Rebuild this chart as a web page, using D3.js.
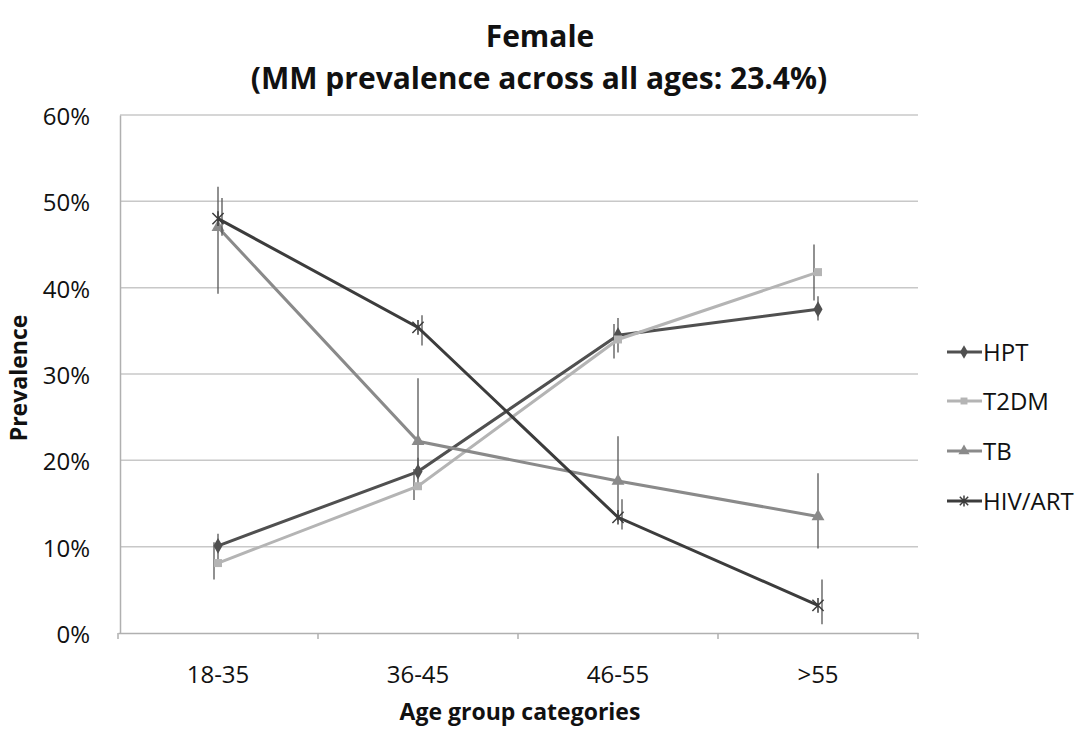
<!DOCTYPE html>
<html>
<head>
<meta charset="utf-8">
<script src="https://cdn.jsdelivr.net/npm/d3@7"></script>
<style>
  body { margin: 0; background: #fff; }
  text { font-family: "Open Sans", "Noto Sans", sans-serif; fill: #111; }
</style>
</head>
<body>
<div id="chart"></div>
<script>
let width = 1088;
let height = 731;
let margins = { top: 115, right: 170, bottom: 98, left: 120 };

// data (percent)
let categories = ["18-35", "36-45", "46-55", ">55"];
let seriesNames = ["HPT", "T2DM", "TB", "HIV/ART"];
let hptValues = [10.1, 18.7, 34.5, 37.5];
let t2dmValues = [8.1, 17.0, 34.0, 41.8];
let tbValues = [47.0, 22.2, 17.6, 13.5];
let hivValues = [48.0, 35.4, 13.4, 3.2];
let hptLow = [8.5, 17.0, 32.5, 36.2];
let hptHigh = [11.5, 20.3, 36.5, 39.0];
let t2dmLow = [6.2, 15.4, 31.8, 38.5];
let t2dmHigh = [10.5, 19.0, 35.8, 45.0];
let tbLow = [39.3, 18.5, 13.0, 9.8];
let tbHigh = [51.7, 29.5, 22.8, 18.5];
let hivLow = [46.0, 33.3, 12.0, 1.0];
let hivHigh = [50.4, 36.8, 15.5, 6.2];
let yTicks = [0, 10, 20, 30, 40, 50, 60];

let series = [
	{ name: seriesNames[0], values: hptValues, low: hptLow, high: hptHigh, color: "#505050", marker: "diamond", dx: 0 },
	{ name: seriesNames[1], values: t2dmValues, low: t2dmLow, high: t2dmHigh, color: "#b4b4b4", marker: "square", dx: -4 },
	{ name: seriesNames[2], values: tbValues, low: tbLow, high: tbHigh, color: "#8a8a8a", marker: "triangle", dx: 0 },
	{ name: seriesNames[3], values: hivValues, low: hivLow, high: hivHigh, color: "#3c3c3c", marker: "star", dx: 4 },
];

var svg = d3
	.select("#chart")
	.append("svg")
	.attr("width", width)
	.attr("height", height);

var x = d3
	.scaleBand()
	.domain(categories)
	.range([margins.left - 2, width - margins.right]);

var y = d3
	.scaleLinear()
	.domain([0, 60])
	.range([height - margins.bottom, margins.top]);

// gridlines
svg
	.append("g")
	.selectAll("line")
	.data(yTicks.slice(1))
	.enter()
	.append("line")
	.attr("x1", margins.left)
	.attr("x2", width - margins.right)
	.attr("y1", (d) => y(d))
	.attr("y2", (d) => y(d))
	.attr("stroke", "#c8c8c8")
	.attr("stroke-width", 1.5);

// y axis
var yAxis = svg
	.append("g")
	.attr("transform", "translate(" + margins.left + ",0)")
	.call(
		d3
			.axisLeft(y)
			.tickValues(yTicks)
			.tickSize(0)
			.tickPadding(30)
			.tickFormat((d) => d + "%")
	);
yAxis.select(".domain").attr("stroke", "#b0b0b0").attr("stroke-width", 1.5);
yAxis.selectAll("text").style("font-size", "24px").attr("fill", "#111").attr("dy", "0.4em");

// x axis
var xAxis = svg
	.append("g")
	.attr("transform", "translate(0," + y(0) + ")")
	.call(d3.axisBottom(x).tickSize(0).tickPadding(33));
xAxis.select(".domain").attr("stroke", "#b0b0b0").attr("stroke-width", 1.5);
xAxis.selectAll("text").style("font-size", "24px").attr("fill", "#111");

// boundary tick marks
var bounds = categories.map((c) => x(c)).concat([x.range()[1]]);
svg
	.append("g")
	.selectAll("line")
	.data(bounds)
	.enter()
	.append("line")
	.attr("x1", (d) => d)
	.attr("x2", (d) => d)
	.attr("y1", y(0))
	.attr("y2", y(0) + 6)
	.attr("stroke", "#b0b0b0")
	.attr("stroke-width", 1.5);

function cx(i) {
	return x(categories[i]) + x.bandwidth() / 2;
}

function drawMarker(g, type, color, px, py, s) {
	if (type === "diamond") {
		g.append("path")
			.attr("d", d3.symbol().type(d3.symbolDiamond).size(s * 9)())
			.attr("transform", "translate(" + px + "," + py + ")")
			.attr("fill", color);
	} else if (type === "square") {
		g.append("path")
			.attr("d", d3.symbol().type(d3.symbolSquare).size(s * 8)())
			.attr("transform", "translate(" + px + "," + py + ")")
			.attr("fill", color);
	} else if (type === "triangle") {
		g.append("path")
			.attr("d", d3.symbol().type(d3.symbolTriangle).size(s * 9)())
			.attr("transform", "translate(" + px + "," + py + ")")
			.attr("fill", color);
	} else {
		var r = s * 0.7;
		g.append("path")
			.attr("d", "M" + (px - r) + "," + (py - r) + "L" + (px + r) + "," + (py + r) +
				"M" + (px - r) + "," + (py + r) + "L" + (px + r) + "," + (py - r) +
				"M" + px + "," + (py - r * 1.3) + "L" + px + "," + (py + r * 1.3))
			.attr("stroke", color)
			.attr("stroke-width", 1.5)
			.attr("fill", "none");
	}
}

var line = d3
	.line()
	.x((d, i) => cx(i))
	.y((d) => y(d));

series.forEach(function (s) {
	var g = svg.append("g");
	// error bars
	s.values.forEach(function (v, i) {
		g.append("line")
			.attr("x1", cx(i) + s.dx)
			.attr("x2", cx(i) + s.dx)
			.attr("y1", y(s.low[i]))
			.attr("y2", y(s.high[i]))
			.attr("stroke", "#555")
			.attr("stroke-width", 1.3);
	});
	g.append("path")
		.datum(s.values)
		.attr("d", line)
		.attr("fill", "none")
		.attr("stroke", s.color)
		.attr("stroke-width", 3);
	s.values.forEach(function (v, i) {
		drawMarker(g, s.marker, s.color, cx(i), y(v), 8);
	});
});

// legend
var legendY = [352, 401, 451, 501];
series.forEach(function (s, i) {
	var lg = svg.append("g");
	lg.append("line")
		.attr("x1", 947)
		.attr("x2", 982)
		.attr("y1", legendY[i])
		.attr("y2", legendY[i])
		.attr("stroke", s.color)
		.attr("stroke-width", 3);
	drawMarker(lg, s.marker, s.color, 964, legendY[i], 6);
	lg.append("text")
		.attr("x", 983)
		.attr("y", legendY[i])
		.attr("dy", "0.36em")
		.style("font-size", "24px")
		.text(s.name);
});

// titles
svg.append("text")
	.attr("x", 540)
	.attr("y", 47)
	.attr("text-anchor", "middle")
	.style("font-size", "30px")
	.style("font-weight", "bold")
	.text("Female");
svg.append("text")
	.attr("x", 539)
	.attr("y", 89)
	.attr("text-anchor", "middle")
	.style("font-size", "30px")
	.style("font-weight", "bold")
	.text("(MM prevalence across all ages: 23.4%)");

svg.append("text")
	.attr("x", 520)
	.attr("y", 720)
	.attr("text-anchor", "middle")
	.style("font-size", "23px")
	.style("font-weight", "bold")
	.text("Age group categories");

svg.append("text")
	.attr("transform", "translate(27,378) rotate(-90)")
	.attr("text-anchor", "middle")
	.style("font-size", "23px")
	.style("font-weight", "bold")
	.text("Prevalence");
</script>
</body>
</html>
